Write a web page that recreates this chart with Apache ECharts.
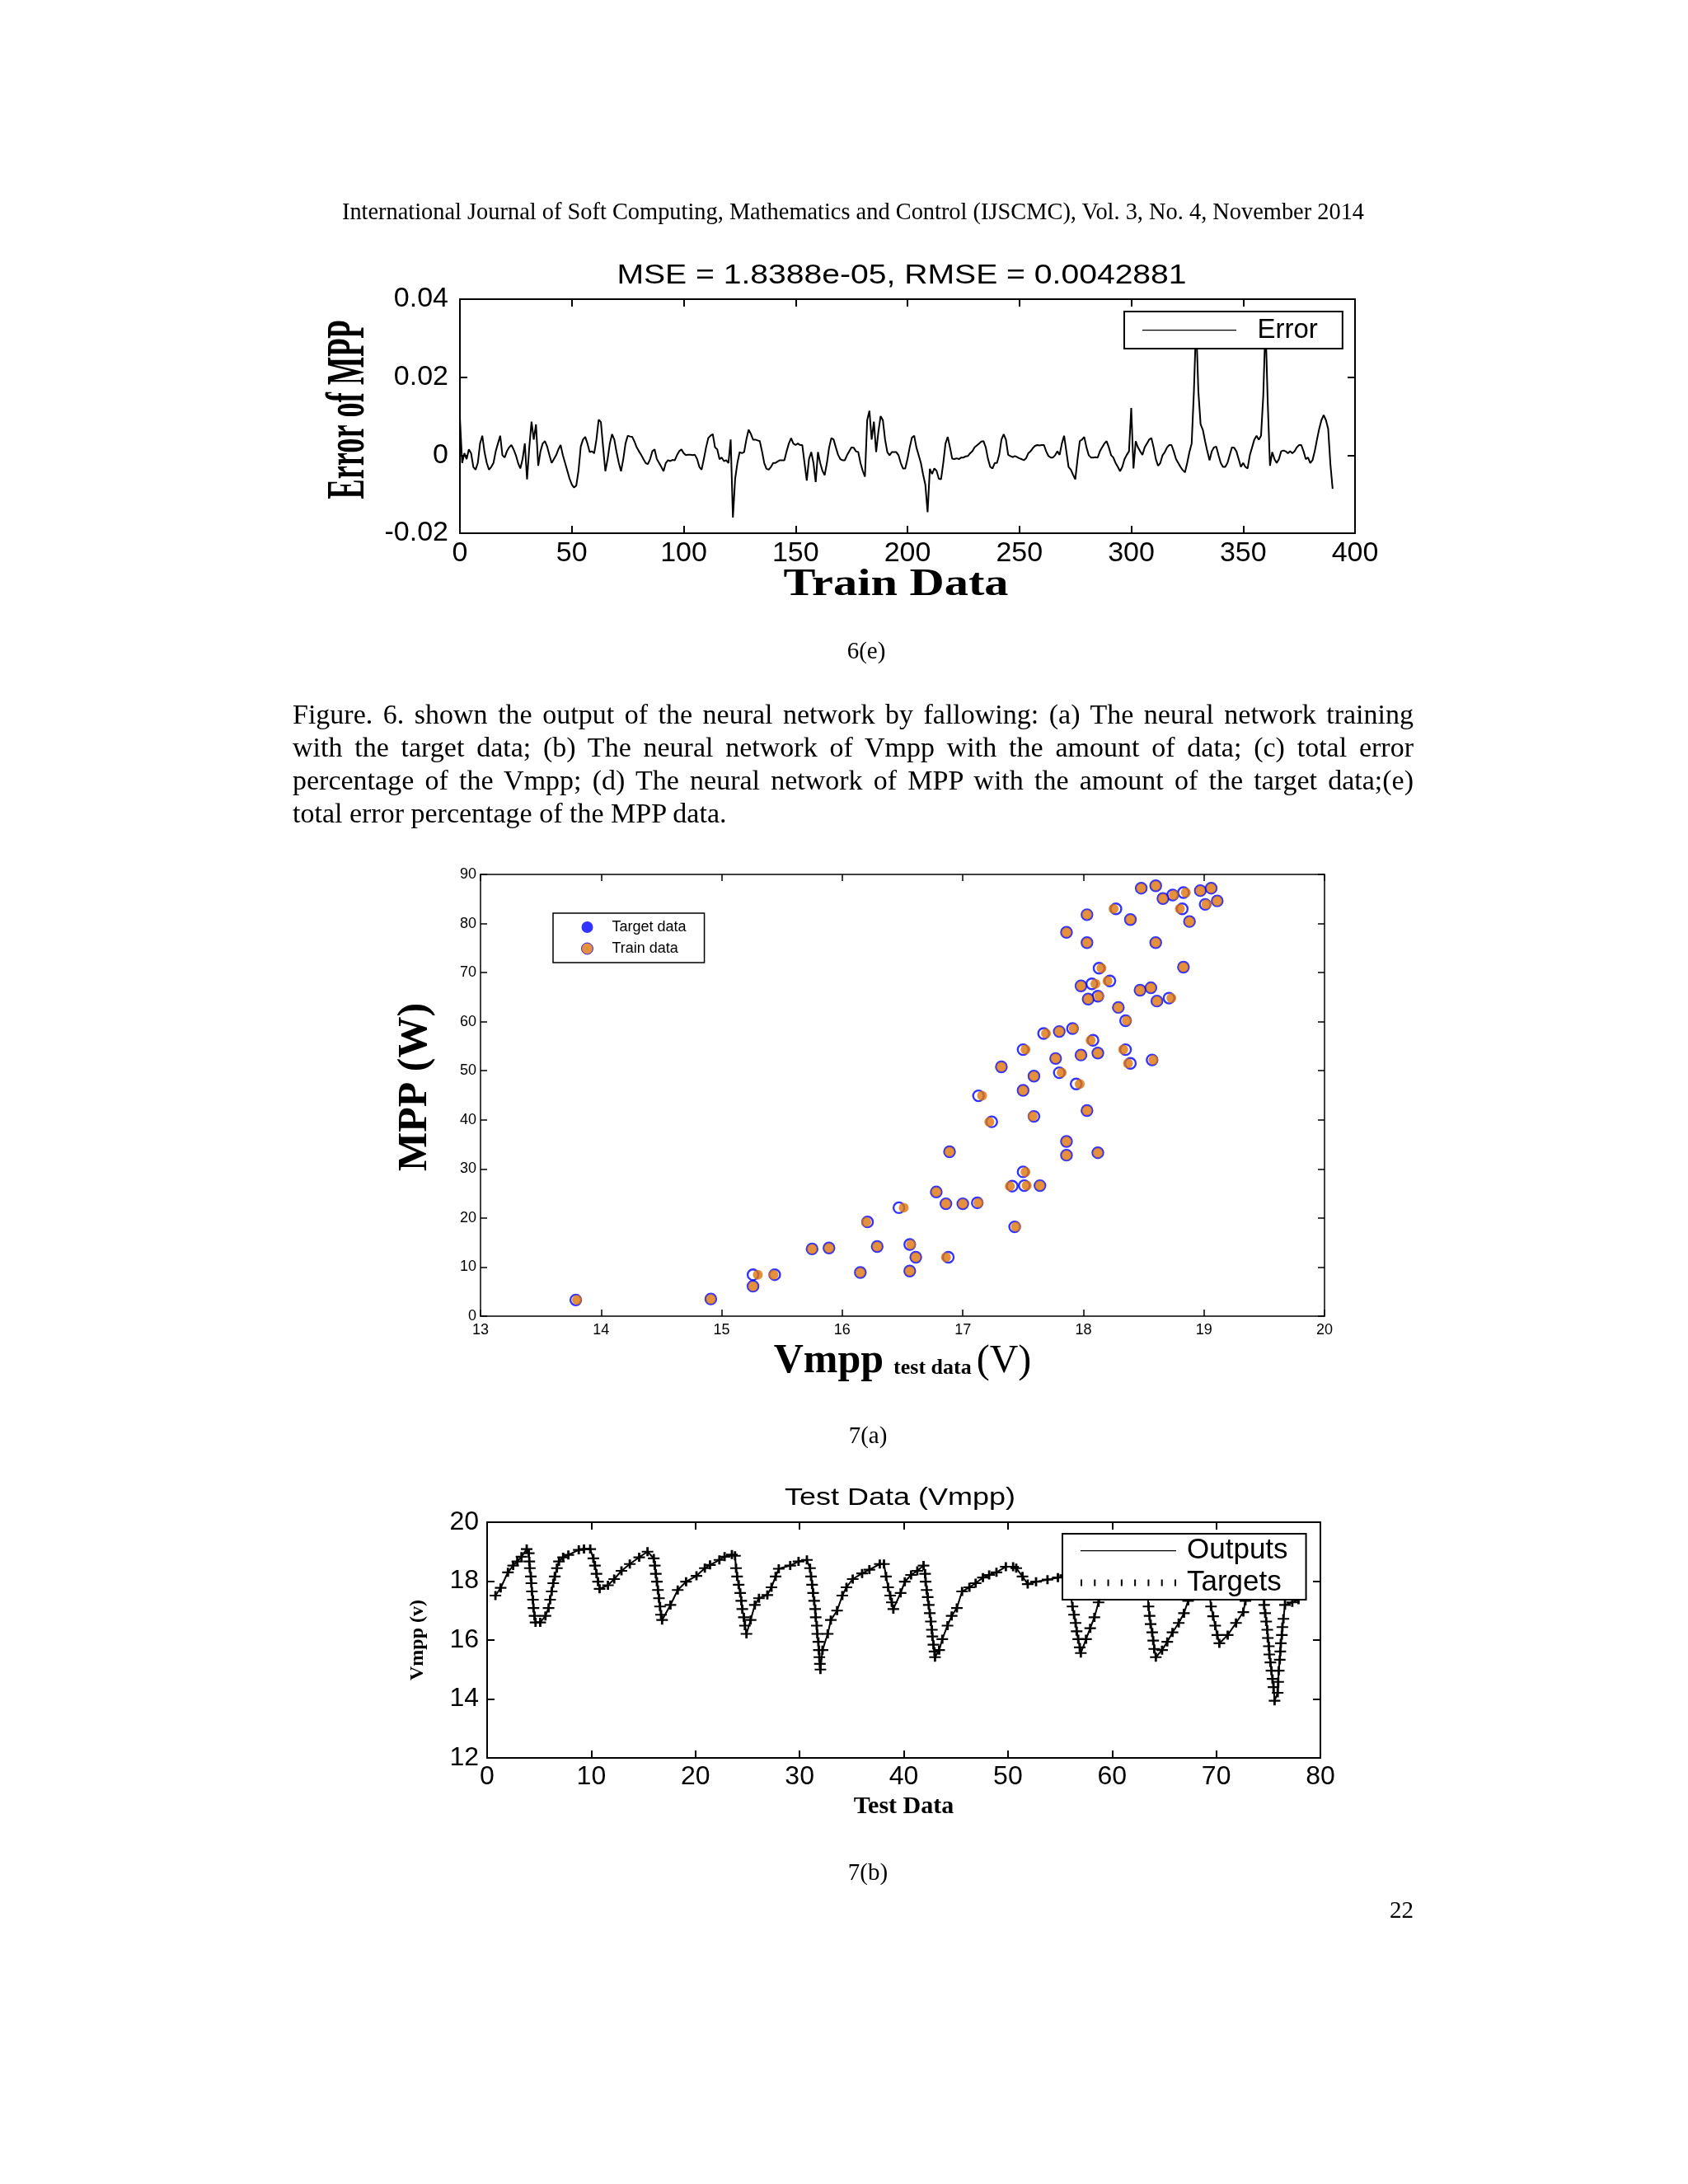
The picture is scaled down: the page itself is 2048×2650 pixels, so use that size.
<!DOCTYPE html>
<html>
<head>
<meta charset="utf-8">
<script src="https://cdn.jsdelivr.net/npm/echarts@6/dist/echarts.min.js"></script>
<style>
html,body{margin:0;padding:0;background:#fff;}
#page{position:relative;width:2048px;height:2650px;overflow:hidden;background:#fff;}
#chart{position:absolute;left:0;top:0;width:2048px;height:2650px;}
.t{position:absolute;font-family:"Liberation Serif","Times New Roman",serif;color:#000;z-index:2;white-space:nowrap;}
.j{left:355px;font-size:34px;line-height:40px;}
</style>
</head>
<body>
<div id="page">
<div id="chart"></div>
<div class="t" style="left:345px;width:1380px;top:238px;font-size:28.4px;line-height:38px;text-align:center;">International Journal of Soft Computing, Mathematics and Control (IJSCMC), Vol. 3, No. 4, November 2014</div>
<div class="t" style="left:951px;width:200px;top:770px;font-size:29px;line-height:38px;text-align:center;">6(e)</div>
<div class="t j just" style="top:847px;">Figure. 6. shown the output of the neural network by fallowing: (a) The neural network training</div>
<div class="t j just" style="top:887px;">with the target data; (b) The neural network of Vmpp with the amount of data; (c) total error</div>
<div class="t j just" style="top:927px;">percentage of the Vmpp; (d) The neural network of MPP with the amount of the target data;(e)</div>
<div class="t j" style="top:967px;">total error percentage of the MPP data.</div>
<div class="t" style="left:953px;width:200px;top:1722px;font-size:29px;line-height:38px;text-align:center;">7(a)</div>
<div class="t" style="left:953px;width:200px;top:2252px;font-size:29px;line-height:38px;text-align:center;">7(b)</div>
<div class="t" style="left:1615px;width:100px;top:2298px;font-size:29px;line-height:38px;text-align:right;">22</div>
</div>
<script>
// justify the paragraph lines to a 1360px measure
document.querySelectorAll('.just').forEach(function (el) {
  const w = el.getBoundingClientRect().width;
  const spaces = (el.textContent.match(/ /g) || []).length;
  if (spaces > 0) el.style.wordSpacing = ((1360 - w) / spaces) + 'px';
});

// ---------- 6(e): Error of MPP vs train data index (0..390) ----------
const errValues = [
0.0096,-0.002,0.0005,-0.001,0.0015,0.0005,-0.003,-0.0037,-0.002,0.003,
0.005,0.0008,-0.002,-0.0037,-0.003,-0.002,0.001,0.003,0.005,0.0,
-0.0006,0.001,0.002,0.0026,0.0015,0.0,-0.002,-0.0034,-0.001,0.003,
-0.0062,0.002,0.0086,0.004,0.0079,-0.0027,0.001,0.003,0.0036,0.0022,
0.0,-0.002,-0.001,0.0,0.0015,0.0026,0.0,-0.002,-0.004,-0.006,
-0.0075,-0.0083,-0.0078,-0.004,0.0022,0.004,0.0047,0.003,0.0008,0.001,
0.0005,0.004,0.0091,0.0085,0.002,-0.0041,-0.001,0.003,0.0054,0.004,
0.0008,-0.002,-0.0041,-0.001,0.003,0.005,0.0048,0.0047,0.0035,0.002,
0.001,0.0001,-0.001,-0.002,-0.0023,-0.001,0.001,0.0015,-0.001,-0.002,
-0.003,-0.0041,-0.002,-0.0013,-0.0015,-0.0012,-0.0013,0.0,0.001,0.0015,
0.0005,0.0,0.0001,0.0001,0.0,0.0001,-0.001,-0.003,-0.0037,-0.001,
0.002,0.0044,0.005,0.0054,0.002,0.0015,-0.001,-0.0006,-0.0015,-0.0013,
-0.002,0.004,-0.016,-0.006,-0.002,0.0008,0.0005,0.0008,0.004,0.0065,
0.0055,0.004,0.004,0.0038,0.0036,0.001,-0.002,-0.0035,-0.0037,-0.003,
-0.002,-0.002,-0.0016,-0.0013,-0.0013,-0.0013,0.001,0.003,0.0044,0.003,
0.0026,0.003,0.0026,0.0026,-0.002,-0.0065,-0.001,0.0008,-0.002,-0.0069,
0.0008,-0.002,-0.004,-0.0051,-0.002,0.002,0.0044,0.004,0.002,0.0001,
-0.001,-0.0013,-0.0013,0.0,0.001,0.002,0.0019,0.001,0.0008,-0.002,
-0.004,-0.0055,0.009,0.0114,0.004,0.0086,0.0008,0.006,0.01,0.009,
0.004,0.0008,0.0,0.0008,0.0008,0.0008,0.0,-0.002,-0.0034,-0.0034,
-0.001,0.002,0.0045,0.005,0.002,0.0,-0.002,-0.005,-0.0076,-0.0146,
-0.0035,-0.0048,-0.0034,-0.004,-0.006,-0.0062,-0.002,0.003,0.0047,0.002,
-0.0009,-0.001,-0.0008,-0.001,-0.0006,-0.0006,-0.0003,-0.0002,0.0005,0.001,
0.002,0.0025,0.003,0.0035,0.0036,0.002,-0.001,-0.003,-0.0034,-0.002,
-0.002,0.0001,0.004,0.0054,0.004,0.0001,-0.0002,-0.0005,-0.0002,-0.0005,
-0.0008,-0.001,-0.0013,-0.0008,0.0005,0.001,0.0018,0.0024,0.0026,0.0025,
0.0026,0.0026,0.001,-0.0002,-0.0006,-0.0006,0.0,0.001,0.0001,0.003,
0.005,0.001,-0.003,-0.0037,-0.005,-0.0062,-0.001,0.0036,0.004,0.0047,
0.002,0.0,-0.0006,-0.0006,-0.0005,-0.0006,0.001,0.002,0.003,0.0036,
0.002,0.0,-0.0006,-0.002,-0.003,-0.0041,-0.003,-0.001,0.0001,0.001,
0.0121,-0.0034,0.0036,0.002,0.001,0.0001,0.002,0.003,0.004,0.0044,
0.002,-0.001,-0.0027,-0.002,0.0,0.0008,0.002,0.0026,0.0026,0.001,
-0.001,-0.002,-0.003,-0.0038,-0.0044,-0.002,0.0008,0.003,0.0163,0.034,
0.0163,0.0079,0.0065,0.0036,0.001,-0.0013,0.001,0.002,0.0022,0.0,
-0.002,-0.003,-0.003,-0.002,0.0,0.002,0.0019,0.001,-0.001,-0.003,
-0.002,-0.003,-0.0034,0.0,0.002,0.004,0.005,0.004,0.005,0.0152,
0.034,0.0135,-0.0027,0.0008,-0.001,-0.002,-0.001,0.001,0.0012,0.001,
0.0005,0.001,0.0005,0.001,0.002,0.0026,0.0026,0.001,-0.001,-0.0006,
-0.002,-0.0013,0.001,0.004,0.0068,0.009,0.0103,0.009,0.0068,-0.0023,-0.0086
];

// ---------- 7(a): MPP vs Vmpp ----------
const trainV = [13.80,14.91,15.26,15.30,15.43,15.75,15.89,16.15,16.20,16.29,
16.51,16.56,16.57,16.61,16.78,16.86,16.86,16.89,17.00,17.13,
17.16,17.22,17.32,17.39,17.44,17.50,17.52,17.52,17.53,17.58,
17.59,17.64,17.69,17.77,17.80,17.82,17.86,17.86,17.86,17.92,
17.97,17.98,17.98,18.03,18.03,18.03,18.04,18.06,18.10,18.12,
18.12,18.13,18.15,18.20,18.25,18.29,18.33,18.36,18.37,18.39,
18.47,18.48,18.56,18.58,18.60,18.60,18.61,18.66,18.73,18.75,
18.80,18.83,18.85,18.88,18.97,19.02,19.06,19.11];
const trainW = [3.3,3.5,6.1,8.45,8.45,13.7,13.9,8.9,19.2,14.2,
22.1,9.2,14.6,12.0,25.3,22.9,12.0,33.5,22.9,23.1,
44.9,39.6,50.8,26.5,18.2,46.0,54.3,29.4,26.6,40.7,
48.9,26.6,57.6,52.5,58.0,49.6,35.6,32.8,78.2,58.6,
47.3,53.2,67.3,41.9,76.1,81.8,64.6,56.2,67.7,33.3,
53.6,65.2,70.9,68.3,83.0,62.9,54.3,60.2,51.5,80.8,
66.4,87.2,66.9,52.2,76.1,87.7,64.2,85.1,64.8,85.8,
83.0,71.1,86.3,80.4,86.7,83.9,87.2,84.6];
const targetV = [13.79,14.91,15.26,15.26,15.44,15.75,15.89,16.15,16.21,16.29,
16.47,16.56,16.56,16.61,16.78,16.86,16.88,16.89,17.00,17.12,
17.13,17.24,17.32,17.41,17.43,17.50,17.50,17.50,17.51,17.59,
17.59,17.64,17.67,17.77,17.80,17.80,17.86,17.86,17.86,17.91,
17.94,17.98,17.98,18.03,18.03,18.03,18.04,18.08,18.07,18.12,
18.12,18.12,18.13,18.22,18.27,18.29,18.35,18.35,18.39,18.39,
18.47,18.48,18.56,18.57,18.60,18.60,18.61,18.66,18.71,18.74,
18.82,18.83,18.83,18.88,18.97,19.01,19.06,19.11];
const targetW = trainW.slice();

// ---------- 7(b): Test Data (Vmpp) ----------
const testX = [0.8,1.3,2.0,2.5,2.9,3.3,3.8,
4.0,4.05,4.1,4.2,4.25,4.3,4.4,4.45,4.55,4.65,
5.1,5.6,5.9,6.05,6.2,6.35,6.5,6.7,6.9,
7.3,7.8,8.8,9.3,9.9,
10.2,10.35,10.5,10.65,10.8,
11.6,12.2,12.9,13.7,14.6,15.4,
16.0,16.1,16.2,16.3,16.4,16.5,16.6,16.7,16.8,
17.6,18.3,19.1,20.1,20.9,21.4,22.3,22.8,23.5,23.8,
23.9,24.0,24.15,24.3,24.4,24.5,24.65,24.75,24.9,
25.3,25.7,26.1,26.9,27.3,27.7,28.0,29.1,29.9,30.7,
31.0,31.1,31.2,31.3,31.4,31.5,31.55,31.65,31.7,31.8,31.85,31.9,31.95,32.0,
32.2,32.7,33.0,33.6,34.1,34.5,35.1,36.0,36.7,37.7,38.1,
38.3,38.5,38.7,38.85,39.0,
39.7,40.1,40.7,41.3,41.9,
42.05,42.1,42.2,42.3,42.4,42.5,42.6,42.7,42.75,42.85,42.95,43.0,
43.4,43.7,44.2,44.6,45.1,45.6,46.3,46.9,47.6,48.2,48.9,49.8,50.5,50.8,51.4,51.9,52.7,53.8,54.8,
55.5,55.9,
56.2,56.35,56.5,56.6,56.75,56.9,57.0,
57.5,57.9,58.3,58.7,
59.3,60.2,61.2,62.2,63.0,63.3,
63.5,63.6,63.7,63.85,63.95,64.05,64.2,
64.8,65.3,65.8,66.4,66.9,67.3,
67.9,68.6,69.2,
69.5,69.7,69.9,70.1,70.3,
71.1,71.9,72.6,72.8,
73.4,74.2,74.5,
74.6,74.7,74.8,74.9,74.95,75.05,75.1,75.2,75.3,75.4,75.5,75.6,
75.9,75.95,76.0,76.1,76.15,76.2,76.3,76.35,76.45,76.6,
77.3,77.9];
const testVmpp = [17.51,17.77,18.30,18.53,18.67,18.83,19.09,
18.95,18.67,18.44,18.16,17.93,17.65,17.37,17.09,16.82,16.6,
16.6,16.82,17.09,17.37,17.65,17.93,18.16,18.44,18.67,
18.81,18.89,19.06,19.09,19.09,
18.77,18.53,18.25,17.98,17.74,
17.86,18.07,18.35,18.58,18.81,19.0,
18.77,18.53,18.25,17.98,17.70,17.42,17.14,16.86,16.68,
17.19,17.70,17.98,18.18,18.44,18.55,18.72,18.83,18.9,18.86,
18.44,18.16,17.88,17.60,17.33,17.05,16.77,16.49,16.21,
16.68,17.19,17.42,17.53,17.79,18.16,18.42,18.53,18.67,18.72,
18.44,18.16,17.88,17.60,17.33,17.05,16.77,16.49,16.21,15.94,15.66,15.42,15.19,15.0,
15.66,16.21,16.68,17.0,17.51,17.79,18.07,18.26,18.39,18.58,18.58,
18.16,17.79,17.51,17.28,17.05,
17.60,17.98,18.21,18.35,18.53,
18.25,17.98,17.70,17.46,17.19,16.91,16.63,16.35,16.12,15.84,15.61,15.42,
15.66,16.03,16.49,16.82,17.09,17.65,17.79,17.93,18.12,18.21,18.30,18.49,18.49,18.44,18.16,17.90,17.98,18.05,18.12,
18.2,17.8,
17.14,16.86,16.58,16.3,16.03,15.75,15.56,
16.03,16.40,16.77,17.28,
17.7,18.0,18.2,18.35,18.3,17.9,
17.14,16.82,16.54,16.26,15.98,15.70,15.42,
15.66,15.94,16.26,16.58,16.91,17.33,
17.8,18.1,18.0,
17.14,16.81,16.49,16.17,15.89,
16.17,16.58,16.95,17.33,
17.9,18.1,17.8,
17.19,16.91,16.63,16.35,16.07,15.79,15.51,15.24,14.96,14.68,14.4,13.94,
14.21,14.58,14.96,15.33,15.61,15.89,16.17,16.44,16.72,17.19,
17.28,17.37];

// ---------- build ----------
const errData = errValues.map((v, i) => [i, v]);
const trainData = trainV.map((v, i) => [v, trainW[i]]);
const targetData = targetV.map((v, i) => [v, targetW[i]]);
const testData = testX.map((x, i) => [x, testVmpp[i]]);

const SANS = '"Liberation Sans", Arial, sans-serif';
const SERIF = '"Liberation Serif", "Times New Roman", serif';
const NARROW = '"Liberation Sans Narrow", "Liberation Sans", Arial, sans-serif';

// legend icons (line samples)
const ICON_LINE = 'path://M0,0 h0.3 v0.3 h-0.3 Z M0,4.4 h114 v1.4 h-114 Z M113.7,9.7 h0.3 v0.3 h-0.3 Z';
let tickPath = 'path://';
for (let i = 0; i < 8; i++) { const x = i * 16; tickPath += 'M' + x + ',1 h2 v8 h-2 Z '; }
tickPath += 'M0,0 h0.3 v0.3 h-0.3 Z M113.7,9.7 h0.3 v0.3 h-0.3 Z';
const ICON_TICKS = tickPath;

function axis(o) {
  const lw = o.lw || 2;
  return {
    type: 'value', gridIndex: o.grid, position: o.pos,
    min: o.min, max: o.max, interval: o.interval,
    name: o.name || '', nameLocation: 'middle', nameGap: o.nameGap || 0,
    nameRotate: o.nameRotate, nameTextStyle: o.nameTextStyle || {},
    axisLine: { show: true, onZero: false, lineStyle: { color: '#000', width: lw } },
    axisTick: { show: true, inside: true, length: o.tickLen || 9, lineStyle: { color: '#000', width: lw } },
    splitLine: { show: false },
    axisLabel: o.label ? Object.assign({ color: '#000', show: true }, o.label) : { show: false }
  };
}

const chart = echarts.init(document.getElementById('chart'), null, { renderer: 'canvas' });
chart.setOption({
  animation: false,
  backgroundColor: '#fff',
  grid: [
    { left: 558, top: 363, width: 1086, height: 284 },
    { left: 583, top: 1061, width: 1024, height: 536 },
    { left: 591, top: 1847, width: 1011, height: 286 }
  ],
  xAxis: [
    axis({ grid: 0, pos: 'bottom', min: 0, max: 400, interval: 50, label: { fontSize: 34, fontFamily: SANS, margin: 8 } }),
    axis({ grid: 0, pos: 'top', min: 0, max: 400, interval: 50 }),
    axis({ grid: 1, pos: 'bottom', min: 13, max: 20, interval: 1, lw: 1.5, tickLen: 8,
      label: { fontSize: 18, fontFamily: NARROW, margin: 8 },
      name: '{a|Vmpp}{b|test data}{c|(V)}', nameGap: 30,
      nameTextStyle: { color: '#000', rich: {
        a: { fontFamily: SERIF, fontWeight: 'bold', fontSize: 50, color: '#000', padding: [0, 12, 0, 0] },
        b: { fontFamily: SERIF, fontWeight: 'bold', fontSize: 26, color: '#000', verticalAlign: 'bottom', padding: [0, 6, 4, 0] },
        c: { fontFamily: SERIF, fontSize: 48, color: '#000' } } } }),
    axis({ grid: 1, pos: 'top', min: 13, max: 20, interval: 1, lw: 1.5, tickLen: 8 }),
    axis({ grid: 2, pos: 'bottom', min: 0, max: 80, interval: 10, label: { fontSize: 32, fontFamily: SANS, margin: 7 },
      name: 'Test Data', nameGap: 44,
      nameTextStyle: { fontFamily: SERIF, fontWeight: 'bold', fontSize: 30, color: '#000' } }),
    axis({ grid: 2, pos: 'top', min: 0, max: 80, interval: 10 })
  ],
  yAxis: [
    axis({ grid: 0, pos: 'left', min: -0.02, max: 0.04, interval: 0.02, label: { fontSize: 34, fontFamily: SANS, margin: 14 } }),
    axis({ grid: 0, pos: 'right', min: -0.02, max: 0.04, interval: 0.02 }),
    axis({ grid: 1, pos: 'left', min: 0, max: 90, interval: 10, lw: 1.5, tickLen: 8,
      label: { fontSize: 18, fontFamily: NARROW, margin: 5 },
      name: 'MPP (W)', nameGap: 54, nameRotate: 90,
      nameTextStyle: { fontFamily: SERIF, fontWeight: 'bold', fontSize: 50, color: '#000', padding: [0, 0, 0, 20] } }),
    axis({ grid: 1, pos: 'right', min: 0, max: 90, interval: 10, lw: 1.5, tickLen: 8 }),
    axis({ grid: 2, pos: 'left', min: 12, max: 20, interval: 2, label: { fontSize: 32, fontFamily: SANS, margin: 10 },
      name: 'Vmpp (v)', nameGap: 72, nameRotate: 90,
      nameTextStyle: { fontFamily: SERIF, fontWeight: 'bold', fontSize: 24, color: '#000' } }),
    axis({ grid: 2, pos: 'right', min: 12, max: 20, interval: 2 })
  ],
  legend: [
    { data: [{ name: 'Error', icon: ICON_LINE }], left: 1364, top: 378, orient: 'horizontal', z: 10, selectedMode: false,
      backgroundColor: '#fff', borderColor: '#000', borderWidth: 2, padding: [6, 30, 6, 22],
      itemWidth: 123, itemHeight: 10,
      textStyle: { fontSize: 33, fontFamily: SANS, color: '#000', padding: [0, 0, 0, 16] } },
    { data: [ { name: 'Target data', icon: 'circle', itemStyle: { color: '#0000ff', borderColor: '#0000ff', borderWidth: 0 } },
              { name: 'Train data', icon: 'circle', itemStyle: { color: '#DD740C', borderColor: '#0000ff', borderWidth: 1 } } ],
      left: 671, top: 1108, orient: 'vertical', z: 10, selectedMode: false,
      backgroundColor: '#fff', borderColor: '#000', borderWidth: 1.5, padding: [8, 22, 8, 34],
      itemWidth: 14, itemHeight: 14, itemGap: 8,
      textStyle: { fontSize: 18, fontFamily: NARROW, color: '#000', padding: [0, 0, 0, 18] } },
    { data: [{ name: 'Outputs', icon: ICON_LINE }, { name: 'Targets', icon: ICON_TICKS }],
      left: 1289, top: 1861, orient: 'vertical', z: 10, selectedMode: false,
      backgroundColor: '#fff', borderColor: '#000', borderWidth: 2, padding: [3, 22, 3, 22],
      itemWidth: 116, itemHeight: 12, itemGap: 4,
      textStyle: { fontSize: 35, fontFamily: SANS, color: '#000', padding: [0, 0, 0, 8] } }
  ],
  graphic: [
    { type: 'text', x: 1094, y: 335, scaleX: 1.15, z: 20,
      style: { text: 'MSE = 1.8388e-05, RMSE = 0.0042881', fontSize: 34, fontFamily: SANS, fill: '#000', align: 'center', verticalAlign: 'middle' } },
    { type: 'text', x: 424, y: 497, rotation: Math.PI / 2, scaleX: 0.55, z: 20,
      style: { text: 'Error of MPP', fontSize: 66, fontWeight: 'bold', fontFamily: SERIF, fill: '#000', align: 'center', verticalAlign: 'middle' } },
    { type: 'text', x: 1087, y: 710, scaleX: 1.27, z: 20,
      style: { text: 'Train Data', fontSize: 46, fontWeight: 'bold', fontFamily: SERIF, fill: '#000', align: 'center', verticalAlign: 'middle' } },
    { type: 'text', x: 1092, y: 1818, scaleX: 1.2, z: 20,
      style: { text: 'Test Data (Vmpp)', fontSize: 30, fontFamily: SANS, fill: '#000', align: 'center', verticalAlign: 'middle' } }
  ],
  series: [
    { name: 'Error', type: 'line', xAxisIndex: 0, yAxisIndex: 0, data: errData, symbol: 'none',
      lineStyle: { color: '#000', width: 2 }, itemStyle: { color: '#000' } },
    { name: 'Target data', type: 'scatter', xAxisIndex: 2, yAxisIndex: 2, data: targetData, symbol: 'circle', symbolSize: 13,
      itemStyle: { color: 'rgba(255,255,255,0)', borderColor: '#0000ff', borderWidth: 2.4 }, z: 2 },
    { name: 'Train data', type: 'scatter', xAxisIndex: 2, yAxisIndex: 2, data: trainData, symbol: 'circle', symbolSize: 12,
      itemStyle: { color: '#DD740C', borderWidth: 0 }, z: 3 },
    { name: 'Outputs', type: 'line', xAxisIndex: 4, yAxisIndex: 4, data: testData, symbol: 'none',
      lineStyle: { color: '#000', width: 2 }, itemStyle: { color: '#000' }, z: 3 },
    { name: 'Targets', type: 'line', xAxisIndex: 4, yAxisIndex: 4, data: testData,
      symbol: 'path://M4,0 L6,0 L6,4 L10,4 L10,6 L6,6 L6,10 L4,10 L4,6 L0,6 L0,4 L4,4 Z', symbolSize: [14, 11],
      showSymbol: true, showAllSymbol: true,
      lineStyle: { color: '#000', width: 1.5, type: 'dotted' }, itemStyle: { color: '#000' }, z: 2 }
  ]
});
</script>
</body>
</html>
